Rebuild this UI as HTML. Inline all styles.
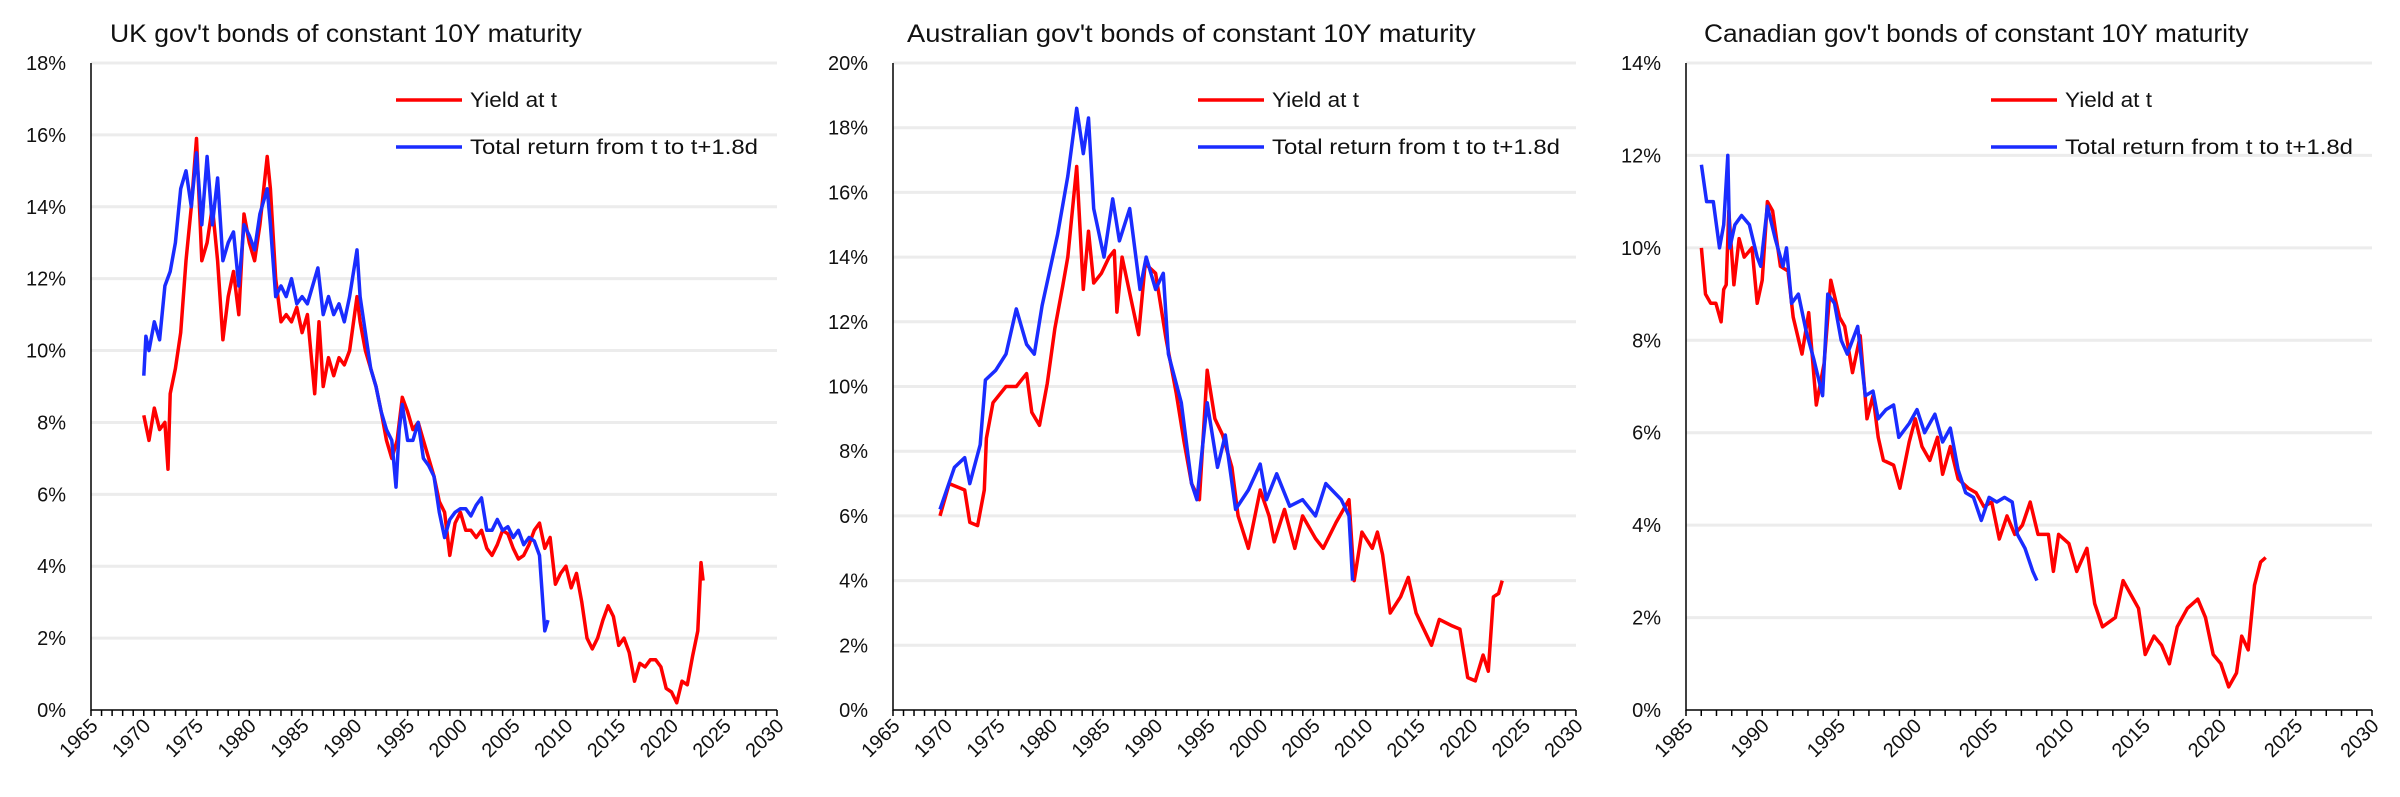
<!DOCTYPE html>
<html><head><meta charset="utf-8"><style>
html,body{margin:0;padding:0;background:#fff;}
svg{display:block;font-family:"Liberation Sans",sans-serif;}
</style></head><body>
<svg id="chart" width="2400" height="797" viewBox="0 0 2400 797" xmlns="http://www.w3.org/2000/svg"></svg>
<script>
// ---------- UK ----------
const ukYieldYears=[1970,1970.5,1971,1971.5,1972,1972.3,1972.5,1973,1973.5,1974,1974.5,1975,1975.5,1976,1976.5,1977,1977.5,1978,1978.5,1979,1979.5,1980,1980.5,1981,1981.7,1982,1982.5,1983,1983.5,1984,1984.5,1985,1985.5,1986.2,1986.6,1987,1987.5,1988,1988.5,1989,1989.5,1990.2,1990.5,1991,1991.5,1992,1992.5,1993,1993.5,1994,1994.5,1995,1995.5,1996,1996.5,1997,1997.5,1998,1998.5,1999,1999.5,2000,2000.5,2001,2001.5,2002,2002.5,2003,2003.5,2004,2004.5,2005,2005.5,2006,2006.5,2007,2007.5,2008,2008.5,2009,2009.5,2010,2010.5,2011,2011.5,2012,2012.5,2013,2013.5,2014,2014.5,2015,2015.5,2016,2016.5,2017,2017.5,2018,2018.5,2019,2019.5,2020,2020.5,2021,2021.5,2022,2022.5,2022.8,2023];
const ukYield=[8.2,7.5,8.4,7.8,8.0,6.7,8.8,9.5,10.5,12.5,14.0,15.9,12.5,13.0,14.0,12.5,10.3,11.5,12.2,11.0,13.8,13.0,12.5,13.5,15.4,14.5,12.0,10.8,11.0,10.8,11.2,10.5,11.0,8.8,10.8,9.0,9.8,9.3,9.8,9.6,10.0,11.5,10.8,10.0,9.5,9.0,8.3,7.5,7.0,7.5,8.7,8.3,7.8,8.0,7.5,7.0,6.5,5.8,5.5,4.3,5.2,5.5,5.0,5.0,4.8,5.0,4.5,4.3,4.6,5.0,4.9,4.5,4.2,4.3,4.6,5.0,5.2,4.5,4.8,3.5,3.8,4.0,3.4,3.8,3.0,2.0,1.7,2.0,2.5,2.9,2.6,1.8,2.0,1.6,0.8,1.3,1.2,1.4,1.4,1.2,0.6,0.5,0.2,0.8,0.7,1.5,2.2,4.1,3.6];
const ukReturnYears=[1970,1970.2,1970.5,1971,1971.5,1972,1972.5,1973,1973.5,1974,1974.5,1975,1975.5,1976,1976.5,1977,1977.5,1978,1978.5,1979,1979.5,1980,1980.5,1981,1981.7,1982,1982.5,1983,1983.5,1984,1984.5,1985,1985.5,1986.5,1987,1987.5,1988,1988.5,1989,1989.5,1990.2,1990.5,1991,1991.5,1992,1992.5,1993,1993.5,1993.9,1994.2,1994.5,1995,1995.5,1996,1996.5,1997,1997.5,1998,1998.5,1999,1999.5,2000,2000.5,2001,2001.5,2002,2002.5,2003,2003.5,2004,2004.5,2005,2005.5,2006,2006.5,2007,2007.5,2008,2008.3];
const ukReturn=[9.3,10.4,10.0,10.8,10.3,11.8,12.2,13.0,14.5,15.0,14.0,15.5,13.5,15.4,13.5,14.8,12.5,13.0,13.3,11.8,13.5,13.2,12.8,13.8,14.5,13.5,11.5,11.8,11.5,12.0,11.3,11.5,11.3,12.3,11.0,11.5,11.0,11.3,10.8,11.5,12.8,11.5,10.5,9.5,9.0,8.3,7.8,7.5,6.2,7.8,8.5,7.5,7.5,8.0,7.0,6.8,6.5,5.5,4.8,5.3,5.5,5.6,5.6,5.4,5.7,5.9,5.0,5.0,5.3,5.0,5.1,4.8,5.0,4.6,4.8,4.7,4.3,2.2,2.5];
const ukYTicks=[0,2,4,6,8,10,12,14,16,18];
// ---------- Australia ----------
const auYieldYears=[1969.47,1970.35,1971.82,1972.31,1973.05,1973.69,1973.89,1974.52,1975.75,1976.73,1977.71,1978.21,1978.94,1979.68,1980.41,1981.15,1981.64,1982.48,1983.11,1983.61,1984.10,1984.83,1985.57,1986.06,1986.31,1986.80,1987.78,1988.37,1989.0,1989.99,1990.97,1991.95,1992.69,1993.42,1994.16,1994.90,1995.63,1996.37,1997.25,1997.84,1998.82,1999.95,2000.79,2001.28,2002.26,2003.24,2003.98,2005.21,2005.94,2007.17,2008.40,2008.89,2009.62,2010.61,2011.10,2011.59,2012.32,2013.31,2014.04,2014.78,2015.52,2016.25,2016.99,2018.22,2018.95,2019.69,2020.42,2021.16,2021.65,2022.14,2022.63,2022.98];
const auYield=[6.0,7.0,6.8,5.8,5.7,6.8,8.4,9.5,10.0,10.0,10.4,9.2,8.8,10.1,11.8,13.1,14.0,16.8,13.0,14.8,13.2,13.5,14.0,14.2,12.3,14.0,12.5,11.6,13.8,13.5,11.5,9.8,8.3,7.0,6.5,10.5,9.0,8.5,7.5,6.0,5.0,6.8,6.0,5.2,6.2,5.0,6.0,5.3,5.0,5.8,6.5,4.0,5.5,5.0,5.5,4.8,3.0,3.5,4.1,3.0,2.5,2.0,2.8,2.6,2.5,1.0,0.9,1.7,1.2,3.5,3.6,4.0];
const auReturnYears=[1969.47,1970.84,1971.82,1972.31,1973.30,1973.79,1974.77,1975.75,1976.73,1977.71,1978.45,1979.19,1980.66,1981.64,1982.48,1983.11,1983.61,1984.10,1985.08,1985.91,1986.55,1987.53,1988.51,1989.10,1989.99,1990.72,1991.21,1992.44,1993.42,1993.92,1994.90,1995.88,1996.62,1997.60,1998.82,1999.95,2000.54,2001.52,2002.75,2003.98,2005.21,2006.19,2007.66,2008.40,2008.74];
const auReturn=[6.2,7.5,7.8,7.0,8.2,10.2,10.5,11.0,12.4,11.3,11.0,12.5,14.7,16.5,18.6,17.2,18.3,15.5,14.0,15.8,14.5,15.5,13.0,14.0,13.0,13.5,11.0,9.5,7.0,6.5,9.5,7.5,8.5,6.2,6.8,7.6,6.5,7.3,6.3,6.5,6.0,7.0,6.5,6.0,4.0];
const auYTicks=[0,2,4,6,8,10,12,14,16,18,20];
// ---------- Canada ----------
const caYieldYears=[1986.01,1986.28,1986.62,1986.96,1987.30,1987.47,1987.64,1987.81,1988.14,1988.48,1988.82,1989.33,1989.67,1990.0,1990.34,1990.68,1991.19,1991.69,1992.03,1992.61,1993.05,1993.55,1994.06,1994.50,1995.07,1995.41,1995.92,1996.43,1996.87,1997.27,1997.61,1997.95,1998.62,1999.03,1999.64,2000.04,2000.48,2000.99,2001.50,2001.83,2002.34,2002.85,2003.52,2004.03,2004.54,2005.05,2005.55,2006.06,2006.57,2007.07,2007.58,2008.09,2008.77,2009.10,2009.44,2010.12,2010.63,2011.30,2011.81,2012.32,2013.16,2013.67,2014.18,2014.68,2015.12,2015.70,2016.20,2016.71,2017.22,2017.89,2018.57,2019.08,2019.58,2020.09,2020.60,2021.11,2021.45,2021.88,2022.29,2022.69,2023.03];
const caYield=[10.0,9.0,8.8,8.8,8.4,9.1,9.2,10.8,9.2,10.2,9.8,10.0,8.8,9.3,11.0,10.8,9.6,9.5,8.5,7.7,8.6,6.6,7.5,9.3,8.5,8.3,7.3,8.1,6.3,6.8,5.9,5.4,5.3,4.8,5.8,6.3,5.7,5.4,5.9,5.1,5.7,5.0,4.8,4.7,4.4,4.5,3.7,4.2,3.8,4.0,4.5,3.8,3.8,3.0,3.8,3.6,3.0,3.5,2.3,1.8,2.0,2.8,2.5,2.2,1.2,1.6,1.4,1.0,1.8,2.2,2.4,2.0,1.2,1.0,0.5,0.8,1.6,1.3,2.7,3.2,3.3];
const caReturnYears=[1986.01,1986.35,1986.79,1987.20,1987.47,1987.74,1987.87,1988.21,1988.65,1989.16,1989.67,1989.90,1990.34,1990.85,1991.36,1991.59,1991.93,1992.37,1992.88,1993.38,1993.96,1994.30,1994.74,1995.18,1995.58,1996.26,1996.76,1997.27,1997.61,1998.12,1998.62,1998.96,1999.64,2000.15,2000.65,2001.33,2001.83,2002.34,2002.85,2003.35,2003.86,2004.37,2004.88,2005.39,2005.89,2006.40,2006.74,2007.24,2007.75,2008.02];
const caReturn=[11.8,11.0,11.0,10.0,10.5,12.0,10.0,10.5,10.7,10.5,9.8,9.6,10.9,10.2,9.6,10.0,8.8,9.0,8.2,7.6,6.8,9.0,8.8,8.0,7.7,8.3,6.8,6.9,6.3,6.5,6.6,5.9,6.2,6.5,6.0,6.4,5.8,6.1,5.2,4.7,4.6,4.1,4.6,4.5,4.6,4.5,3.8,3.5,3.0,2.8];
const caYTicks=[0,2,4,6,8,10,12,14];

const NS="http://www.w3.org/2000/svg";
const svg=document.getElementById('chart');
function mk(tag,attrs,parent){const e=document.createElementNS(NS,tag);for(const k in attrs)e.setAttribute(k,attrs[k]);(parent||svg).appendChild(e);return e;}

const panels=[
 {key:'uk',title:"UK gov't bonds of constant 10Y maturity",x0:91,x1:777,tx:110,xmin:1965,xmax:2030,ymax:18,yt:ukYTicks,yY:ukYieldYears,yV:ukYield,rY:ukReturnYears,rV:ukReturn},
 {key:'australia',title:"Australian gov't bonds of constant 10Y maturity",x0:893,x1:1576,tx:907,xmin:1965,xmax:2030,ymax:20,yt:auYTicks,yY:auYieldYears,yV:auYield,rY:auReturnYears,rV:auReturn},
 {key:'canada',title:"Canadian gov't bonds of constant 10Y maturity",x0:1686,x1:2372,tx:1704,xmin:1985,xmax:2030,ymax:14,yt:caYTicks,yY:caYieldYears,yV:caYield,rY:caReturnYears,rV:caReturn}
];
const Y0=710,Y1=63;
panels.forEach(p=>{
 const g=mk('g',{});
 
 
 const xs=v=>p.x0+(v-p.xmin)/(p.xmax-p.xmin)*(p.x1-p.x0);
 const ys=v=>Y0-v/p.ymax*(Y0-Y1);
 const t=mk('text',{x:p.tx,y:42,'font-size':25,fill:'#111',textLength:p.title.length*12.1,lengthAdjust:'spacingAndGlyphs'},g);t.textContent=p.title;
 
 
 p.yt.forEach(v=>{
  if(v>0){const gl=mk('line',{x1:p.x0,x2:p.x1,y1:ys(v),y2:ys(v),stroke:'#ececec','stroke-width':3},g);
   
   }
  const lb=mk('text',{x:p.x0-25,y:ys(v)+7,'text-anchor':'end','font-size':20,fill:'#111'},g);lb.textContent=v+'%';
  
  
 });
 for(let yr=p.xmin;yr<=p.xmax;yr++){
  mk('line',{x1:xs(yr),x2:xs(yr),y1:Y0,y2:Y0+6,stroke:'#000','stroke-width':1.5},g);
  if(yr%5===0){
   const xl=mk('text',{transform:`translate(${xs(yr)+8},727) rotate(-45)`,'text-anchor':'end','font-size':20,fill:'#111'},g);xl.textContent=yr;
   
   
  }
 }
 const ax=mk('path',{d:`M${p.x0},${Y1} V${Y0} H${p.x1}`,fill:'none',stroke:'#000','stroke-width':1.5},g);
 
 
 const line=(yrs,vals,col,name)=>{
  const d=yrs.map((y,i)=>(i?'L':'M')+xs(y).toFixed(1)+','+ys(vals[i]).toFixed(1)).join(' ');
  const l=mk('path',{d:d,fill:'none',stroke:col,'stroke-width':3.5,'stroke-linejoin':'round'},g);
  
  
 };
 line(p.yY,p.yV,'#ff0000',p.key+'-yield-line');
 line(p.rY,p.rV,'#1a2cff',p.key+'-total-return-line');
 const lx=p.x0+305;
 [['Yield at t','#ff0000',100,87],['Total return from t to t+1.8d','#1a2cff',147,288]].forEach(([txt,c,y,w])=>{
  const lg=mk('g',{},g);
  
  
  mk('line',{x1:lx,x2:lx+66,y1:y,y2:y,stroke:c,'stroke-width':3.5},lg);
  const lt=mk('text',{x:lx+74,y:y+7,'font-size':21,fill:'#111',textLength:w,lengthAdjust:'spacingAndGlyphs'},lg);lt.textContent=txt;
 });
});
</script>
</body></html>
